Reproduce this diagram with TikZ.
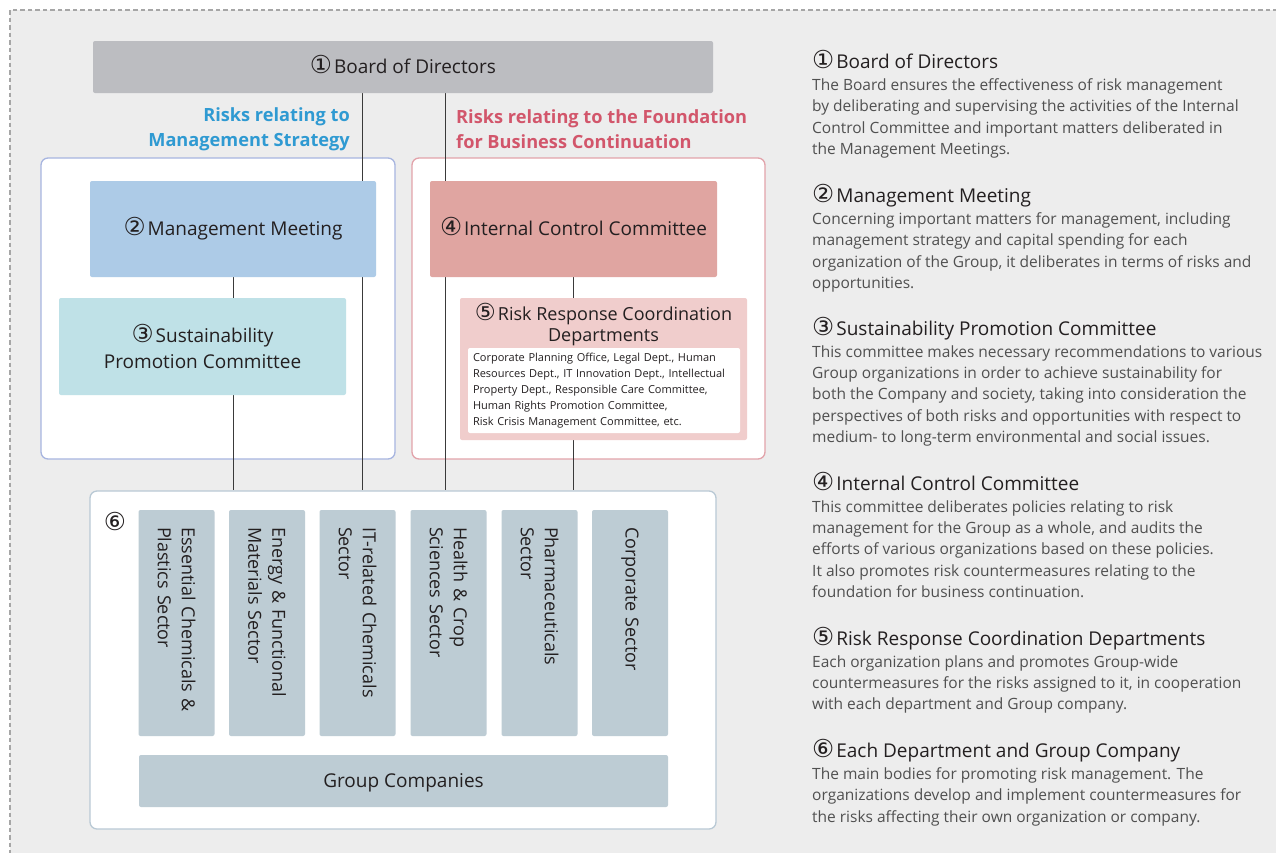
\documentclass[tikz,border=0pt]{standalone}
\usepackage{fontspec}
\usepackage{graphicx}
\setmainfont{Open Sans}
\newfontfamily\symfont{DejaVu Sans}
\usetikzlibrary{positioning}
\pgfdeclarelayer{backdrop}
\pgfdeclarelayer{background}
\pgfsetlayers{backdrop,background,main}

\definecolor{paper}{HTML}{EDEDED}
\definecolor{dashgray}{HTML}{A6A6A6}
\definecolor{ink}{HTML}{231F20}
\definecolor{bodygray}{HTML}{505050}
\definecolor{linkgray}{HTML}{3A3A3A}
\definecolor{boardfill}{HTML}{BCBDC1}
\definecolor{stratblue}{HTML}{2F9AD2}
\definecolor{contred}{HTML}{D2566B}
\definecolor{stratline}{HTML}{A7B5E0}
\definecolor{contline}{HTML}{E2A3AA}
\definecolor{mmfill}{HTML}{ADCBE7}
\definecolor{spcfill}{HTML}{BFE1E7}
\definecolor{iccfill}{HTML}{E0A5A1}
\definecolor{rrcdfill}{HTML}{F0CDCC}
\definecolor{grpline}{HTML}{B9C9D5}
\definecolor{sectfill}{HTML}{BDCCD4}

\newcommand{\fs}[2]{\fontsize{#1}{#2}\selectfont}
\newcommand{\circnum}[1]{\scalebox{1.3}{\symfont #1}\kern2pt}

\begin{document}
\begin{tikzpicture}[x=1pt, y=-1pt,
  box/.style={rounded corners=2pt, inner sep=0pt, align=center, text=ink, font=\fs{19}{26}},
  oneline/.style={text height=15pt, text depth=3pt},
  frame/.style={draw, fill=white, rounded corners=7pt, line width=1.3pt, inner sep=0pt},
  sector/.style={box, fill=sectfill, rotate=-90, minimum width=226pt, minimum height=76pt, text width=192pt, align=left, font=\fs{18}{24}},
  riskhead/.style={inner sep=0pt, font=\bfseries\fs{18.2}{25}},
  link/.style={draw=linkgray, line width=1pt},
  head/.style={anchor=base west, inner sep=0pt, text=ink, text depth=4pt, font=\fs{19}{21}},
  note/.style={inner sep=0pt, align=left, text=bodygray, font=\fs{15.5}{21.4}}
]
\useasboundingbox (0,0) rectangle (1276,852);

% chart
\node[box, oneline, fill=boardfill, minimum width=620pt, minimum height=52pt] (board) at (403,67) {\circnum{①}Board of Directors};
\node[riskhead, text=stratblue, align=right, anchor=east] (stratlabel) at (350,129) {Risks relating to\\Management Strategy};
\node[riskhead, text=contred, align=left, anchor=west] (contlabel) at (456,129) {Risks relating to the Foundation\\for Business Continuation};

\node[box, oneline, fill=mmfill, minimum width=286pt, minimum height=96pt] (mm) at (233,229) {\circnum{②}Management Meeting};
\node[box, fill=spcfill, minimum width=287pt, minimum height=97pt] (spc) at (202.5,346.5) {\circnum{③}Sustainability\\Promotion Committee};
\node[box, oneline, fill=iccfill, minimum width=287pt, minimum height=96pt] (icc) at (573.5,229) {\circnum{④}Internal Control Committee};
\node[box, fill=rrcdfill, minimum width=287pt, minimum height=142pt] (rrcd) at (603.5,369) {};
\node[box, font=\fs{18}{21}] (rrcdtitle) at (603.5,325) {\circnum{⑤}Risk Response Coordination\\Departments};
\node[box, fill=white, minimum width=272pt, minimum height=85pt, text width=262pt, align=left, font=\fs{11}{16}] (deptlist) at (604,390.5) {Corporate Planning Office, Legal Dept., Human\\Resources Dept., IT Innovation Dept., Intellectual\\Property Dept., Responsible Care Committee,\\Human Rights Promotion Committee,\\Risk Crisis Management Committee, etc.};

\node[frame, draw=grpline, minimum width=626pt, minimum height=338pt] (grp) at (403,660) {};
\node[box] (sixlabel) at (115,521) {\scalebox{1.3}{\symfont ⑥}};
\node[sector] (essential) at (176.5,623) {Essential Chemicals \&\\Plastics Sector};
\node[sector] (energy) at (267,623) {Energy \& Functional\\Materials Sector};
\node[sector] (itrel) at (357.5,623) {IT-related Chemicals\\Sector};
\node[sector] (health) at (448.5,623) {Health \& Crop\\Sciences Sector};
\node[sector] (pharma) at (539.5,623) {Pharmaceuticals\\Sector};
\node[sector] (corporate) at (630,623) {Corporate Sector};
\node[box, oneline, fill=sectfill, minimum width=529pt, minimum height=52pt] (gc) at (403.5,781) {Group Companies};

% notes on the right
\node[head] (h1) at (812,68) {\circnum{①}Board of Directors};
\node[note, below right=6pt and 0pt of h1.south west] (n1) {The Board ensures the effectiveness of risk management\\by deliberating and supervising the activities of the Internal\\Control Committee and important matters deliberated in\\the Management Meetings.};
\node[head] (h2) at (812,202) {\circnum{②}Management Meeting};
\node[note, below right=6pt and 0pt of h2.south west] (n2) {Concerning important matters for management, including\\management strategy and capital spending for each\\organization of the Group, it deliberates in terms of risks and\\opportunities.};
\node[head] (h3) at (812,335) {\circnum{③}Sustainability Promotion Committee};
\node[note, below right=6pt and 0pt of h3.south west] (n3) {This committee makes necessary recommendations to various\\Group organizations in order to achieve sustainability for\\both the Company and society, taking into consideration the\\perspectives of both risks and opportunities with respect to\\medium- to long-term environmental and social issues.};
\node[head] (h4) at (812,490) {\circnum{④}Internal Control Committee};
\node[note, below right=6pt and 0pt of h4.south west] (n4) {This committee deliberates policies relating to risk\\management for the Group as a whole, and audits the\\efforts of various organizations based on these policies.\\It also promotes risk countermeasures relating to the\\foundation for business continuation.};
\node[head] (h5) at (812,645) {\circnum{⑤}Risk Response Coordination Departments};
\node[note, below right=6pt and 0pt of h5.south west] (n5) {Each organization plans and promotes Group-wide\\countermeasures for the risks assigned to it, in cooperation\\with each department and Group company.};
\node[head] (h6) at (812,757) {\circnum{⑥}Each Department and Group Company};
\node[note, below right=6pt and 0pt of h6.south west] (n6) {The main bodies for promoting risk management. The\\organizations develop and implement countermeasures for\\the risks affecting their own organization or company.};

% frames and lines behind the boxes
\begin{pgfonlayer}{background}
\node[frame, draw=stratline, minimum width=354pt, minimum height=301pt] (stratframe) at (218,308.5) {};
\node[frame, draw=contline, minimum width=353pt, minimum height=301pt] (contframe) at (588.5,308.5) {};
\coordinate (tapS) at (362,0);
\coordinate (tapC) at (445,0);
\draw[link] (board.south -| tapS) -- (grp.north -| tapS);
\draw[link] (board.south -| tapC) -- (grp.north -| tapC);
\draw[link] (mm.south) -- (mm.south |- spc.north);
\draw[link] (spc.south -| mm.south) -- (grp.north -| mm.south);
\draw[link] (icc.south) -- (icc.south |- rrcd.north);
\draw[link] (rrcd.south -| icc.south) -- (grp.north -| icc.south);
\end{pgfonlayer}

% page
\begin{pgfonlayer}{backdrop}
\clip (0,0) rectangle (1276,852);
\fill[white] (0,0) rectangle (1276,852);
\draw[dashgray, fill=paper, line width=1.3pt, dash pattern=on 4.5pt off 3pt] (10,10) rectangle (1300,880);
\end{pgfonlayer}
\end{tikzpicture}
\end{document}
